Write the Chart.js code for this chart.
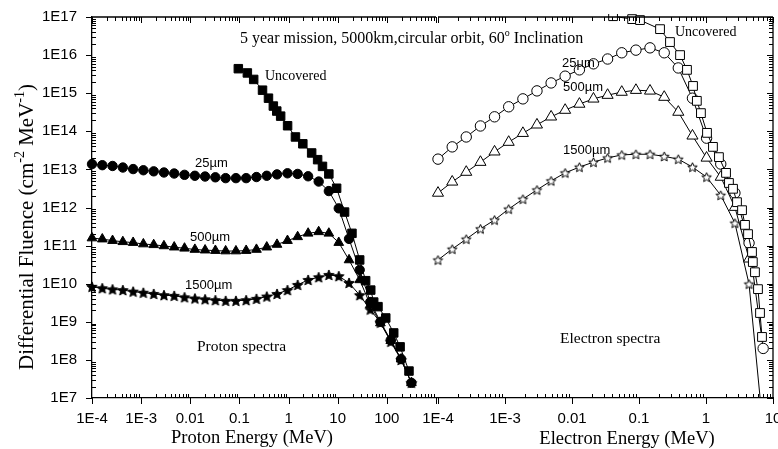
<!DOCTYPE html>
<html>
<head>
<meta charset="utf-8">
<title>Proton and electron spectra</title>
<script src="https://cdn.jsdelivr.net/npm/chart.js@4.4.1/dist/chart.umd.min.js"></script>
<style>
  body { margin: 0; background: #fff; overflow: hidden; }
  #wrap { position: relative; width: 778px; height: 449px; overflow: hidden; }
  .panel { position: absolute; top: 0; height: 449px; }
</style>
</head>
<body>
<div id="wrap">
  <div class="panel" style="left:0;width:778px"><canvas id="protonChart"></canvas></div>
  <div class="panel" style="left:400px;width:410px"><canvas id="electronChart"></canvas></div>
</div>
<script>
// ---- data (energies in MeV, fluence in cm^-2 MeV^-1) ----
const protonEnergy = [1e-4, 1.62e-4, 2.62e-4, 4.24e-4, 6.87e-4, 1.11e-3, 1.8e-3, 2.91e-3, 4.71e-3, 7.63e-3,
  0.0124, 0.02, 0.0324, 0.0524, 0.0849, 0.137, 0.222, 0.36, 0.582, 0.95,
  1.53, 2.5, 4.1, 6.6, 10.5, 17, 28, 46, 74, 120, 195, 316];
const proton25 = [1.38e13, 1.29e13, 1.23e13, 1.12e13, 1.02e13, 9.5e12, 8.9e12, 8.3e12, 7.8e12, 7.2e12,
  6.8e12, 6.5e12, 6.2e12, 5.9e12, 5.9e12, 5.9e12, 6.3e12, 6.8e12, 7.4e12, 7.9e12,
  7.6e12, 6.6e12, 4.8e12, 2.7e12, 9.5e11, 1.5e11, 2.3e10, 3.3e9, 1.0e9, 3.3e8, 1.05e8, 2.5e7];
const proton500 = [1.58e11, 1.48e11, 1.35e11, 1.26e11, 1.2e11, 1.1e11, 1.05e11, 9.8e10, 9.1e10, 8.5e10,
  7.9e10, 7.6e10, 7.4e10, 7.2e10, 7.2e10, 7.4e10, 7.9e10, 9.1e10, 1.07e11, 1.35e11,
  1.7e11, 2.1e11, 2.3e11, 2.1e11, 1.2e11, 4.2e10, 1.26e10, 2.8e9, 9.3e8, 3.2e8, 1.05e8, 2.5e7];
const proton1500 = [8.3e9, 7.6e9, 7.1e9, 6.8e9, 6.2e9, 5.8e9, 5.4e9, 5.0e9, 4.8e9, 4.4e9,
  4.1e9, 3.9e9, 3.7e9, 3.55e9, 3.55e9, 3.7e9, 4.0e9, 4.6e9, 5.4e9, 6.8e9,
  9.3e9, 1.26e10, 1.48e10, 1.7e10, 1.58e10, 1.05e10, 5.0e9, 2.1e9, 9.5e8, 3.0e8, 1.0e8, 2.5e7];
const protonUncEnergy = [0.095, 0.145, 0.195, 0.295, 0.39, 0.49, 0.575, 0.69, 0.955, 1.38,
  1.95, 2.95, 3.9, 4.9, 6.6, 9.5, 13.8, 19.5, 28, 37, 47, 54, 66, 95, 138, 186, 282];
const protonUncovered = [4.4e15, 3.4e15, 2.3e15, 1.2e15, 7.4e14, 4.6e14, 3.4e14, 2.5e14, 1.4e14, 7.1e13,
  4.7e13, 2.7e13, 1.8e13, 1.2e13, 7.6e12, 3.2e12, 7.6e11, 2.1e11, 4.2e10, 1.2e10,
  6.8e9, 3.3e9, 2.5e9, 1.26e9, 5.1e8, 2.2e8, 5.1e7];

const electronEnergy = [1e-4, 1.63e-4, 2.64e-4, 4.3e-4, 6.98e-4, 1.135e-3, 1.85e-3, 3.0e-3, 4.88e-3, 7.9e-3,
  0.0129, 0.0209, 0.034, 0.0553, 0.09, 0.146, 0.238, 0.386, 0.628, 1.02, 1.66, 2.7, 4.39, 7.13];
const electron25 = [1.86e13, 3.9e13, 7.1e13, 1.38e14, 2.4e14, 4.4e14, 7.1e14, 1.15e15, 1.86e15, 2.8e15,
  4.1e15, 5.9e15, 7.9e15, 1.15e16, 1.35e16, 1.55e16, 1.15e16, 4.6e15, 7.4e14, 6.6e13,
  1.38e13, 2.4e12, 1.17e11, 2.0e8];
const electron500 = [2.4e12, 4.7e12, 8.5e12, 1.55e13, 2.9e13, 5.2e13, 8.9e13, 1.48e14, 2.4e14, 3.6e14,
  5.2e14, 7.1e14, 8.9e14, 1.07e15, 1.2e15, 1.15e15, 7.9e14, 3.2e14, 7.6e13, 2.0e13,
  6.3e12, 1.02e12, 4.5e10];
const electron1500 = [4.2e10, 8.1e10, 1.48e11, 2.75e11, 4.7e11, 9.1e11, 1.66e12, 2.9e12, 5.0e12, 8.1e12,
  1.15e13, 1.55e13, 2.0e13, 2.4e13, 2.5e13, 2.5e13, 2.2e13, 1.86e13, 1.15e13, 6.3e12,
  2.1e12, 3.9e11, 9.8e9, 1.5e6];
const electronUncEnergy = [0.041, 0.079, 0.1035, 0.206, 0.29, 0.41, 0.52, 0.64, 0.73, 0.84,
  1.035, 1.27, 1.56, 1.99, 2.2, 2.53, 2.9, 3.45, 3.82, 4.24, 4.86, 5.0, 5.38, 5.97, 6.4, 6.85];
const electronUncovered = [1.05e17, 8.8e16, 8.3e16, 4.8e16, 2.2e16, 1.0e16, 4.1e15, 1.55e15, 6.3e14, 3.0e14,
  9.1e13, 3.9e13, 2.1e13, 8.1e12, 4.4e12, 3.1e12, 1.38e12, 8.5e11, 3.5e11, 2.0e11,
  6.8e10, 3.7e10, 2.0e10, 7.2e9, 1.7e9, 4.0e8];

// axis ticks
const fluenceTicks = [1e7, 1e8, 1e9, 1e10, 1e11, 1e12, 1e13, 1e14, 1e15, 1e16, 1e17];
const fluenceLabels = ['1E7', '1E8', '1E9', '1E10', '1E11', '1E12', '1E13', '1E14', '1E15', '1E16', '1E17'];
const protonTicks = [1e-4, 1e-3, 0.01, 0.1, 1, 10, 100];
const protonTickLabels = ['1E-4', '1E-3', '0.01', '0.1', '1', '10', '100'];
const electronTicks = [1e-4, 1e-3, 0.01, 0.1, 1, 10];
const electronTickLabels = ['1E-4', '1E-3', '0.01', '0.1', '1', '10'];

const SANS = '"Liberation Sans", Arial, sans-serif';
const SERIF = '"Liberation Serif", "Times New Roman", serif';

function pairs(xs, ys) {
  return ys.map((v, i) => ({ x: xs[i], y: v }));
}

function starImage(R, filled) {
  const c = document.createElement('canvas');
  const s = Math.ceil(R * 2) + 3;
  c.width = c.height = s;
  const g = c.getContext('2d');
  g.beginPath();
  for (let k = 0; k < 10; k++) {
    const r = k % 2 ? R * 0.45 : R;
    const a = -Math.PI / 2 + k * Math.PI / 5;
    const px = s / 2 + r * Math.cos(a), py = s / 2 + 0.5 + r * Math.sin(a);
    if (k) g.lineTo(px, py); else g.moveTo(px, py);
  }
  g.closePath();
  g.fillStyle = filled ? '#000' : '#fff';
  g.fill();
  g.lineWidth = 1;
  g.strokeStyle = '#000';
  g.stroke();
  return c;
}

function series(data, style, radius, filled) {
  return {
    data: data,
    showLine: true,
    borderColor: '#000',
    borderWidth: 1,
    pointStyle: style,
    pointRadius: radius,
    pointBackgroundColor: filled ? '#000' : '#fff',
    pointBorderColor: '#000',
    pointBorderWidth: 1,
    clip: { left: 8, right: 8, top: 3, bottom: 0 }
  };
}

// 1..9 x 10^k positions for the frame ticks
function logTicks(min, max) {
  const out = [];
  for (let k = Math.floor(Math.log10(min)); k <= Math.ceil(Math.log10(max)); k++) {
    for (let m = 1; m <= 9; m++) {
      const v = m * Math.pow(10, k);
      if (v >= min * 0.999 && v <= max * 1.001) out.push({ v: v, major: m === 1 });
    }
  }
  return out;
}

function line(ctx, x1, y1, x2, y2) {
  ctx.beginPath();
  ctx.moveTo(x1, y1);
  ctx.lineTo(x2, y2);
  ctx.stroke();
}

// text with superscript pieces, parts = [[text, isSup], ...]
function richText(ctx, parts, x, y, size, align) {
  const supSize = Math.round(size * 0.65);
  const widths = parts.map(p => {
    ctx.font = (p[1] ? supSize : size) + 'px ' + SERIF;
    return ctx.measureText(p[0]).width;
  });
  const total = widths.reduce((a, b) => a + b, 0);
  let cx = align === 'center' ? x - total / 2 : x;
  ctx.textAlign = 'left';
  ctx.textBaseline = 'alphabetic';
  parts.forEach((p, i) => {
    ctx.font = (p[1] ? supSize : size) + 'px ' + SERIF;
    ctx.fillText(p[0], cx, p[1] ? y - size * 0.45 : y);
    cx += widths[i];
  });
}

const frameTicks = {
  id: 'frameTicks',
  afterDatasetsDraw(chart, args, opts) {
    const { ctx, chartArea: a, scales: { x, y } } = chart;
    ctx.save();
    ctx.strokeStyle = '#000';
    ctx.lineWidth = 1;
    logTicks(x.min, x.max).forEach(t => {
      const px = Math.round(x.getPixelForValue(t.v)) + 0.5;
      if (t.major) line(ctx, px, a.bottom, px, a.bottom + 6);
      else line(ctx, px, a.bottom, px, a.bottom - 4);
      line(ctx, px, a.top, px, a.top + (t.major ? 6 : 4));
    });
    ctx.lineWidth = 1.3;
    line(ctx, a.left, a.top, a.right, a.top);
    ctx.lineWidth = 1;
    logTicks(y.min, y.max).forEach(t => {
      const py = Math.round(y.getPixelForValue(t.v)) + 0.5;
      if (opts.left) {
        if (t.major) line(ctx, a.left - 6, py, a.left, py);
        else line(ctx, a.left, py, a.left + 4, py);
      }
      if (opts.right) line(ctx, a.right, py, a.right - (t.major ? 6 : 4), py);
    });
    if (opts.right) {
      ctx.lineWidth = 1.3;
      line(ctx, a.right, a.top, a.right, a.bottom);
    }
    ctx.restore();
  }
};

const notes = {
  id: 'notes',
  afterDraw(chart, args, opts) {
    const ctx = chart.ctx;
    ctx.save();
    ctx.fillStyle = '#000';
    opts.items.forEach(it => {
      ctx.font = it.size + 'px ' + (it.sans ? SANS : SERIF);
      ctx.textAlign = 'left';
      ctx.textBaseline = 'middle';
      ctx.fillText(it.text, it.x - opts.offset, it.y);
    });
    (opts.rich || []).forEach(r => {
      ctx.save();
      ctx.translate(r.x - opts.offset, r.y);
      if (r.rotate) ctx.rotate(-Math.PI / 2);
      richText(ctx, r.parts, 0, 0, r.size, r.align);
      ctx.restore();
    });
    ctx.restore();
  }
};

function baseScales(ticks, labels, min, max, yWidth) {
  return {
    x: {
      type: 'logarithmic',
      position: 'bottom',
      min: min,
      max: max,
      grid: { display: false, drawTicks: false },
      border: { display: true, color: '#000', width: 1.3 },
      afterBuildTicks: s => { s.ticks = ticks.map(v => ({ value: v })); },
      afterFit: s => { s.height = 51; },
      ticks: {
        autoSkip: false,
        maxRotation: 0,
        padding: 12,
        color: '#000',
        font: { family: SANS, size: 15 },
        callback: (v, i) => labels[i]
      }
    },
    y: {
      type: 'logarithmic',
      min: 1e7,
      max: 1e17,
      display: yWidth > 0,
      grid: { display: false, drawTicks: false },
      border: { display: true, color: '#000', width: 1.3 },
      afterBuildTicks: s => { s.ticks = fluenceTicks.map(v => ({ value: v })); },
      afterFit: s => {
        s.width = yWidth;
        s.paddingTop = 0;
        s.paddingBottom = 0;
      },
      ticks: {
        autoSkip: false,
        padding: 15,
        color: '#000',
        font: { family: SANS, size: 15 },
        callback: (v, i) => fluenceLabels[i]
      }
    }
  };
}

const common = {
  responsive: true,
  maintainAspectRatio: false,
  animation: false,
  events: [],
  plugins: { legend: { display: false }, tooltip: { enabled: false } }
};

// proton panel (its canvas spans the whole page)
new Chart(document.getElementById('protonChart'), {
  type: 'scatter',
  data: {
    datasets: [
      series(pairs(protonUncEnergy, protonUncovered), 'rect', 6, true),
      series(pairs(protonEnergy, proton25), 'circle', 4.7, true),
      series(pairs(protonEnergy, proton500), 'triangle', 5.6, true),
      series(pairs(protonEnergy, proton1500), starImage(5.5, true), 5, true)
    ]
  },
  options: Object.assign({}, common, {
    layout: { padding: { top: 17, right: 342, left: 0, bottom: 0 } },
    scales: baseScales(protonTicks, protonTickLabels, 1e-4, 1000, 92),
    plugins: Object.assign({}, common.plugins, {
      frameTicks: { left: true, right: false },
      notes: {
        offset: 0,
        items: [
          { text: 'Uncovered', x: 265, y: 76, size: 14 },
          { text: '25\u00b5m', x: 195, y: 163, size: 13, sans: true },
          { text: '500\u00b5m', x: 190, y: 237, size: 13, sans: true },
          { text: '1500\u00b5m', x: 185, y: 285, size: 13, sans: true },
          { text: 'Proton spectra', x: 197, y: 347, size: 15.5 }
        ],
        rich: [
          { parts: [['5 year mission, 5000km,circular orbit, 60', false], ['o', true], [' Inclination', false]],
            x: 240, y: 43, size: 16, align: 'left' },
          { parts: [['Proton Energy (MeV)', false]], x: 252, y: 443, size: 18.5, align: 'center' },
          { parts: [['Differential Fluence (cm', false], ['-2', true], [' MeV', false], ['-1', true], [')', false]],
            x: 33, y: 227, size: 21, align: 'center', rotate: true }
        ]
      }
    })
  }),
  plugins: [frameTicks, notes]
});

// electron panel (canvas starts at x = 400 on the page)
new Chart(document.getElementById('electronChart'), {
  type: 'scatter',
  data: {
    datasets: [
      series(pairs(electronUncEnergy, electronUncovered), 'rect', 6.2, false),
      series(pairs(electronEnergy, electron25), 'circle', 5.2, false),
      series(pairs(electronEnergy, electron500), 'triangle', 6.4, false),
      series(pairs(electronEnergy, electron1500), starImage(5, false), 5, false)
    ]
  },
  options: Object.assign({}, common, {
    layout: { padding: { top: 17, right: 37, left: 38, bottom: 0 } },
    scales: baseScales(electronTicks, electronTickLabels, 1e-4, 10, 0),
    plugins: Object.assign({}, common.plugins, {
      frameTicks: { left: false, right: true },
      notes: {
        offset: 400,
        items: [
          { text: 'Uncovered', x: 675, y: 32, size: 14 },
          { text: '25\u00b5m', x: 562, y: 63, size: 13, sans: true },
          { text: '500\u00b5m', x: 563, y: 87, size: 13, sans: true },
          { text: '1500\u00b5m', x: 563, y: 150, size: 13, sans: true },
          { text: 'Electron spectra', x: 560, y: 339, size: 15.5 }
        ],
        rich: [
          { parts: [['Electron Energy (MeV)', false]], x: 627, y: 444, size: 18.5, align: 'center' }
        ]
      }
    })
  }),
  plugins: [frameTicks, notes]
});
</script>
</body>
</html>
